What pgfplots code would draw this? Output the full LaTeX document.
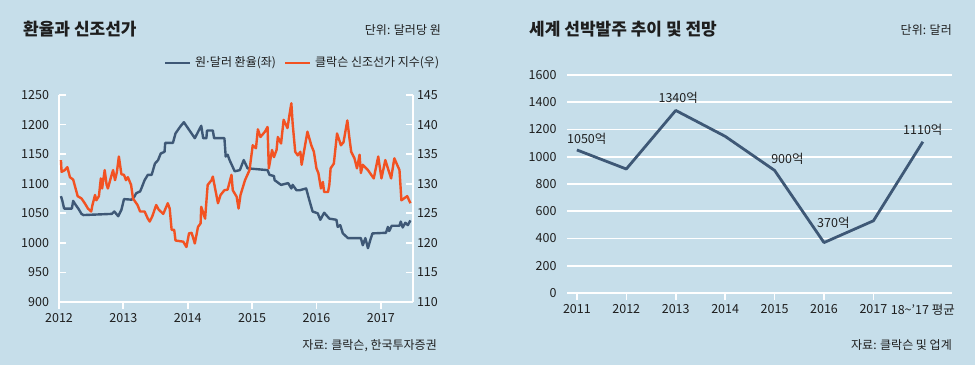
\documentclass[border=0pt]{standalone}
\usepackage{fontspec}
\setmainfont{Noto Sans CJK KR}
\usepackage{pgfplots}
\pgfplotsset{compat=1.18}
\definecolor{bgc}{RGB}{198,222,234}
\definecolor{bl}{RGB}{62,88,118}
\definecolor{orc}{RGB}{242,82,34}
\definecolor{txt}{RGB}{30,30,30}
\newcommand{\sm}{\fontsize{12}{13}\selectfont}
\newcommand{\tk}{\fontsize{12.5}{13}\selectfont}
\begin{document}
\begin{tikzpicture}[x=1pt,y=1pt]
\fill[bgc] (0,0) rectangle (975,365);
% ---------- left panel texts
\node[anchor=west,font=\fontsize{17}{18}\selectfont\bfseries,text=txt,inner sep=0] at (23,336) {환율과 신조선가};
\node[anchor=east,font=\sm,text=txt,inner sep=0] at (441,335) {단위: 달러당 원};
\draw[bl,line width=2.5pt] (165,302) -- (190,302);
\node[anchor=west,font=\sm,text=txt,inner sep=0] at (195,302) {원\kern-1.5pt·\kern-1.5pt달러 환율(좌)};
\draw[orc,line width=2.5pt] (285,302) -- (310,302);
\node[anchor=west,font=\sm,text=txt,inner sep=0] at (315,302) {클락슨 신조선가 지수(우)};
\node[anchor=east,font=\sm,text=txt,inner sep=0] at (437,19) {자료: 클락슨, 한국투자증권};
% ---------- right panel texts
\node[anchor=west,font=\fontsize{17}{18}\selectfont\bfseries,text=txt,inner sep=0] at (529,336) {세계 선박발주 추이 및 전망};
\node[anchor=east,font=\sm,text=txt,inner sep=0] at (952,335) {단위: 달러};
\node[anchor=east,font=\sm,text=txt,inner sep=0] at (952,20) {자료: 클락슨 및 업계};

% ---------- x ticks of the left chart (outside)
\begin{axis}[
  at={(59pt,63pt)}, anchor=south west,
  scale only axis, width=354pt, height=207pt,
  xmin=2012, xmax=2017.5, ymin=0, ymax=1,
  axis x line*=bottom, axis y line=none,
  axis line style={white, line width=1.8pt},
  xtick={2012,2013,2014,2015,2016,2017},
  tick align=outside, major tick length=7pt,
  xtick style={white, line width=1.8pt},
  tick label style={font=\tk, text=txt},
  /pgf/number format/assume math mode=true,
  /pgf/number format/1000 sep={},
  xticklabel style={yshift=-1pt},
]
\end{axis}
% ---------- left axis (exchange rate)
\begin{axis}[
  at={(59pt,63pt)}, anchor=south west,
  scale only axis, width=354pt, height=207pt,
  xmin=2012, xmax=2017.5, ymin=900, ymax=1250,
  axis x line=none, axis y line*=left,
  axis line style={white, line width=1.8pt},
  ytick={900,950,...,1250},
  tick align=inside, major tick length=7pt,
  ytick style={white, line width=1.8pt},
  tick label style={font=\tk, text=txt},
  /pgf/number format/assume math mode=true,
  /pgf/number format/1000 sep={},
  yticklabel style={xshift=-6.5pt},
  clip=false,
]
\addplot[bl, line width=2.4pt, line join=round] coordinates {
(2012.03,1079)(2012.05,1072)(2012.08,1058)(2012.20,1058)(2012.22,1071)(2012.26,1064)
(2012.30,1058)(2012.35,1049)(2012.38,1047)(2012.82,1049)(2012.86,1053)(2012.92,1045)
(2012.97,1056)(2013.01,1074)(2013.13,1073)(2013.17,1078)(2013.20,1084)(2013.26,1087)
(2013.28,1092)(2013.33,1106)(2013.38,1115)(2013.44,1115)(2013.49,1134)(2013.54,1140)
(2013.58,1151)(2013.64,1154)(2013.65,1169)(2013.77,1169)(2013.81,1185)(2013.88,1196)
(2013.94,1204)(2014.11,1177)(2014.21,1198)(2014.24,1177)(2014.29,1177)(2014.30,1190)
(2014.39,1190)(2014.41,1177)(2014.57,1177)(2014.59,1146)(2014.62,1149)(2014.65,1140)
(2014.73,1121)(2014.81,1123)(2014.87,1140)(2014.93,1126)(2015.24,1123)(2015.27,1115)
(2015.34,1113)(2015.35,1106)(2015.45,1098)(2015.56,1101)(2015.61,1092)(2015.63,1098)
(2015.69,1089)(2015.74,1089)(2015.84,1092)(2015.89,1072)(2015.94,1053)(2016.02,1050)
(2016.06,1039)(2016.12,1051)(2016.20,1041)(2016.31,1039)(2016.33,1027)(2016.37,1030)
(2016.41,1016)(2016.49,1008)(2016.69,1008)(2016.72,996)(2016.76,1008)(2016.80,991)
(2016.84,1006)(2016.87,1016)(2017.08,1017)(2017.11,1027)(2017.13,1020)(2017.17,1029)
(2017.29,1029)(2017.31,1036)(2017.34,1026)(2017.38,1034)(2017.42,1030)(2017.46,1038)
};
\end{axis}
% ---------- right axis (newbuild index)
\begin{axis}[
  at={(59pt,63pt)}, anchor=south west,
  scale only axis, width=354pt, height=207pt,
  xmin=2012, xmax=2017.5, ymin=110, ymax=145,
  axis x line=none, axis y line*=right,
  axis line style={white, line width=1.8pt},
  ytick={110,115,...,145},
  tick align=inside, major tick length=7pt,
  ytick style={white, line width=1.8pt},
  tick label style={font=\tk, text=txt},
  /pgf/number format/assume math mode=true,
  yticklabel style={xshift=0.5pt},
  clip=false,
]
\addplot[orc, line width=2.4pt, line join=round] coordinates {
(2012.03,134.0)(2012.04,132.0)(2012.09,132.3)(2012.13,132.8)(2012.17,131.1)(2012.22,130.7)
(2012.25,129.5)(2012.29,127.9)(2012.35,127.5)(2012.40,126.7)(2012.45,125.8)(2012.50,125.3)
(2012.52,126.4)(2012.56,128.1)(2012.58,127.2)(2012.62,127.9)(2012.65,130.9)(2012.67,129.2)
(2012.71,132.3)(2012.74,129.8)(2012.76,129.2)(2012.81,131.2)(2012.84,132.3)(2012.87,130.6)
(2012.90,132.0)(2012.93,134.6)(2012.97,131.6)(2013.01,131.5)(2013.04,130.6)(2013.07,131.1)
(2013.12,129.8)(2013.15,127.5)(2013.22,126.4)(2013.26,125.3)(2013.33,125.3)(2013.38,124.1)
(2013.41,123.6)(2013.45,124.5)(2013.51,126.4)(2013.55,125.6)(2013.62,124.9)(2013.69,126.7)
(2013.72,125.8)(2013.75,122.2)(2013.79,122.2)(2013.81,120.4)(2013.93,120.2)(2013.98,119.3)
(2014.02,121.6)(2014.06,121.7)(2014.08,121.0)(2014.11,119.9)(2014.16,122.7)(2014.20,123.3)
(2014.21,126.1)(2014.27,124.1)(2014.31,129.8)(2014.37,130.6)(2014.39,131.2)(2014.42,129.5)
(2014.47,126.7)(2014.51,128.1)(2014.57,128.9)(2014.62,129.0)(2014.68,131.5)(2014.70,128.9)
(2014.76,127.8)(2014.79,125.8)(2014.82,128.1)(2014.89,130.6)(2014.96,132.3)(2015.01,136.5)
(2015.06,136.0)(2015.09,139.2)(2015.13,137.9)(2015.20,138.8)(2015.24,139.6)(2015.26,132.6)
(2015.31,135.7)(2015.34,134.5)(2015.38,135.7)(2015.40,137.9)(2015.45,136.8)(2015.49,140.8)
(2015.55,139.4)(2015.58,141.6)(2015.61,143.6)(2015.63,140.2)(2015.67,135.4)(2015.71,134.8)
(2015.75,135.4)(2015.77,133.2)(2015.86,138.8)(2015.92,136.5)(2015.96,135.4)(2016.00,132.6)
(2016.03,131.8)(2016.07,129.2)(2016.10,130.3)(2016.12,128.6)(2016.18,128.6)(2016.20,129.8)
(2016.22,132.6)(2016.27,133.4)(2016.32,138.5)(2016.38,136.5)(2016.42,137.0)(2016.48,140.7)
(2016.51,137.9)(2016.54,135.4)(2016.59,134.3)(2016.63,132.6)(2016.67,134.9)(2016.69,131.8)
(2016.72,133.2)(2016.80,132.3)(2016.89,130.9)(2016.96,134.6)(2017.01,130.9)(2017.07,134.0)
(2017.11,132.6)(2017.16,130.9)(2017.21,134.3)(2017.29,132.3)(2017.32,127.2)(2017.41,127.9)
(2017.46,126.7)
};
\end{axis}

% ---------- right chart
\begin{axis}[
  at={(567pt,72pt)}, anchor=south west,
  scale only axis, width=385pt, height=218pt,
  xmin=-0.2, xmax=7.59, ymin=0, ymax=1600,
  axis x line*=bottom, axis y line*=left,
  axis line style={draw=none},
  ytick={0,200,...,1600},
  xtick={0,1,2,3,4,5,6},
  xticklabels={2011,2012,2013,2014,2015,2016,2017},
  extra x ticks={7},
  extra x tick labels={18\textasciitilde\textquoteright17 평균},
  extra x tick style={xtick style={draw=none}},
  ymajorgrids, grid style={white, line width=1.6pt},
  tick align=outside, major tick length=7pt,
  ytick style={draw=none},
  xtick style={white, line width=1.6pt},
  tick label style={font=\tk, text=txt},
  /pgf/number format/assume math mode=true,
  /pgf/number format/1000 sep={},
  xticklabel style={yshift=-1pt},
  yticklabel style={xshift=0pt},
  clip=false,
]
\addplot[bl, line width=2.8pt, line join=round] coordinates {
(0,1050)(1,910)(2,1340)(3,1150)(4,900)(5,370)(6,530)(7,1110)
};
\node[font=\tk,text=txt] at (axis cs:0.2,1130) {1050억};
\node[font=\tk,text=txt] at (axis cs:2.05,1431) {1340억};
\node[font=\tk,text=txt] at (axis cs:4.26,983) {900억};
\node[font=\tk,text=txt] at (axis cs:5.19,514) {370억};
\node[font=\tk,text=txt] at (axis cs:7.0,1196) {1110억};
\end{axis}
\end{tikzpicture}
\end{document}
